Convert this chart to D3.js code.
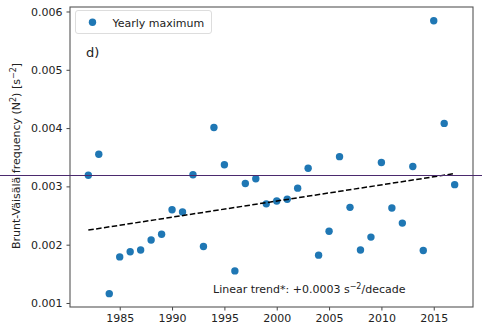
<!DOCTYPE html>
<html>
<head>
<meta charset="utf-8">
<script src="https://cdn.jsdelivr.net/npm/d3@7"></script>
<style>
body { margin: 0; background: #fff; }
text { font-family: "DejaVu Sans", sans-serif; fill: #222; }
</style>
</head>
<body>
<div id="chart"></div>
<script>
// data
var years = [1982, 1983, 1984, 1985, 1986, 1987, 1988, 1989, 1990, 1991,
	1992, 1993, 1994, 1995, 1996, 1997, 1998, 1999, 2000, 2001,
	2002, 2003, 2004, 2005, 2006, 2007, 2008, 2009, 2010, 2011,
	2012, 2013, 2014, 2015, 2016, 2017];
var yearlyMax = [0.00319, 0.00355, 0.00116, 0.00179, 0.00188, 0.00191, 0.00208, 0.00218, 0.00260, 0.00256,
	0.00320, 0.00197, 0.00401, 0.00337, 0.00155, 0.00305, 0.00313, 0.00270, 0.00275, 0.00278,
	0.00297, 0.00331, 0.00182, 0.00223, 0.00351, 0.00264, 0.00191, 0.00213, 0.00341, 0.00263,
	0.00237, 0.00334, 0.00190, 0.00584, 0.00408, 0.00303];
var trendYears = [1982, 2017];
var trendValues = [0.00225, 0.00322];
var xTicks = [1985, 1990, 1995, 2000, 2005, 2010, 2015];
var yTicks = [0.001, 0.002, 0.003, 0.004, 0.005, 0.006];

// build canvas
var width = 482,
	height = 333;
var margin = {left: 70, right: 9, top: 7, bottom: 26};

var svg = d3.select('#chart')
			.append('svg')
			.attr('width', width)
			.attr('height', height);

var x = d3.scaleLinear()
		.domain([1980.25, 2018.75])
		.range([margin.left, width - margin.right]);

var y = d3.scaleLinear()
		.domain([0.000931, 0.006077])
		.range([height - margin.bottom, margin.top]);

// axes
var xAxis = svg.append('g')
	.attr('transform', 'translate(0,' + (height - margin.bottom) + ')')
	.call(d3.axisBottom(x).tickValues(xTicks).tickFormat(d3.format('d')).tickSize(3.5).tickPadding(4));

var yAxis = svg.append('g')
	.attr('transform', 'translate(' + margin.left + ',0)')
	.call(d3.axisLeft(y).tickValues(yTicks).tickFormat(d3.format('.3f')).tickSize(3.5).tickPadding(4));

[xAxis, yAxis].forEach(function(a) {
	a.select('.domain').remove();
	a.selectAll('line').attr('stroke', '#444');
	a.selectAll('text').style('font-size', '11px').attr('fill', '#333');
});

// frame
svg.append('rect')
	.attr('x', margin.left)
	.attr('y', margin.top)
	.attr('width', width - margin.left - margin.right)
	.attr('height', height - margin.top - margin.bottom)
	.attr('fill', 'none')
	.attr('stroke', '#555')
	.attr('stroke-width', 1.1);

// points
svg.append('g')
	.selectAll('circle')
	.data(years).enter()
	.append('circle')
	.attr('cx', d => x(d))
	.attr('cy', (d, i) => y(yearlyMax[i]))
	.attr('r', 3.7)
	.attr('fill', '#1f77b4');

// trend line
svg.append('path')
	.datum(trendYears)
	.attr('d', d3.line().x(d => x(d)).y((d, i) => y(trendValues[i])))
	.attr('fill', 'none')
	.attr('stroke', '#000')
	.attr('stroke-width', 1.5)
	.attr('stroke-dasharray', '5.5,2.4');

// legend
var legend = svg.append('g');
legend.append('rect')
	.attr('x', 75.5).attr('y', 10.5)
	.attr('width', 136).attr('height', 23)
	.attr('rx', 2.5)
	.attr('fill', '#fff')
	.attr('stroke', '#ddd');
legend.append('circle')
	.attr('cx', 92.5).attr('cy', 22.3)
	.attr('r', 3.7)
	.attr('fill', '#1f77b4');
legend.append('text')
	.attr('x', 112.5).attr('y', 26.5)
	.style('font-size', '11px')
	.text('Yearly maximum');

// panel label
svg.append('text')
	.attr('x', 86).attr('y', 57)
	.style('font-size', '13px')
	.text('d)');

// trend annotation
var note = svg.append('text')
	.attr('x', 213).attr('y', 293)
	.style('font-size', '11px');
note.append('tspan').text('Linear trend*: +0.0003 s');
note.append('tspan').attr('dy', -4).style('font-size', '8px').text('\u22122');
note.append('tspan').attr('dy', 4).text('/decade');

// y label
var ylab = svg.append('text')
	.attr('transform', 'translate(20,' + 156 + ') rotate(-90)')
	.attr('text-anchor', 'middle')
	.style('font-size', '11px');
ylab.append('tspan').text('Brunt-V\u00e4is\u00e4l\u00e4 frequency (N');
ylab.append('tspan').attr('dy', -4).style('font-size', '8px').text('2');
ylab.append('tspan').attr('dy', 4).text(') [s');
ylab.append('tspan').attr('dy', -4).style('font-size', '8px').text('\u22122');
ylab.append('tspan').attr('dy', 4).text(']');

// stray horizontal rule across the figure
svg.append('line')
	.attr('x1', 0).attr('x2', width)
	.attr('y1', 175.5).attr('y2', 175.5)
	.attr('stroke', '#4b2a6e')
	.attr('stroke-width', 1);
</script>
</body>
</html>
